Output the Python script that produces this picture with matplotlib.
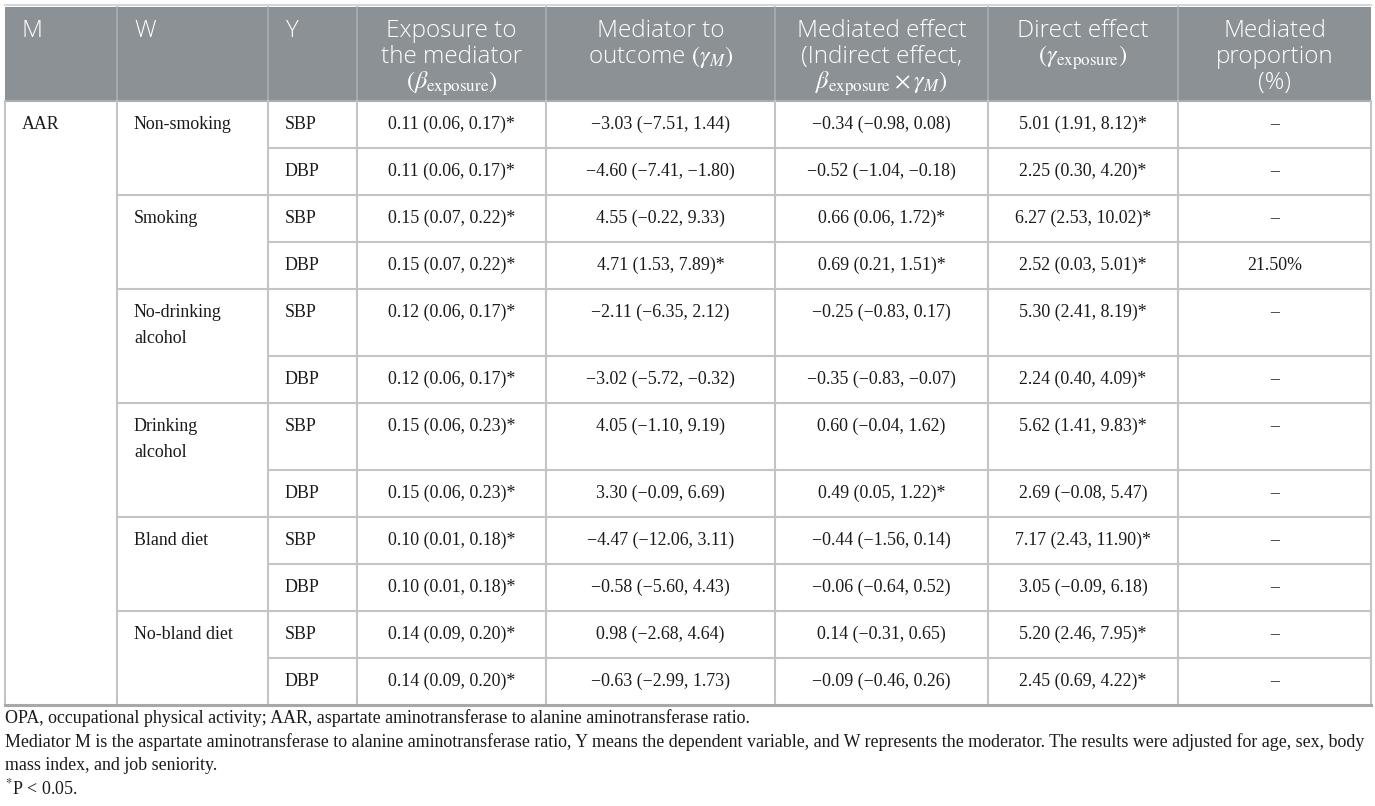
import matplotlib
matplotlib.use("Agg")
import matplotlib.pyplot as plt

plt.rcParams["mathtext.fontset"] = "stix"

# ---- table content ----
mediator = "AAR"
moderators = ["Non-smoking", "Smoking", "No-drinking\nalcohol", "Drinking\nalcohol",
              "Bland diet", "No-bland diet"]
outcomes = ["SBP", "DBP"]

exposure_to_mediator = [
    "0.11 (0.06, 0.17)*", "0.11 (0.06, 0.17)*",
    "0.15 (0.07, 0.22)*", "0.15 (0.07, 0.22)*",
    "0.12 (0.06, 0.17)*", "0.12 (0.06, 0.17)*",
    "0.15 (0.06, 0.23)*", "0.15 (0.06, 0.23)*",
    "0.10 (0.01, 0.18)*", "0.10 (0.01, 0.18)*",
    "0.14 (0.09, 0.20)*", "0.14 (0.09, 0.20)*",
]
mediator_to_outcome = [
    "\u22123.03 (\u22127.51, 1.44)", "\u22124.60 (\u22127.41, \u22121.80)",
    "4.55 (\u22120.22, 9.33)", "4.71 (1.53, 7.89)*",
    "\u22122.11 (\u22126.35, 2.12)", "\u22123.02 (\u22125.72, \u22120.32)",
    "4.05 (\u22121.10, 9.19)", "3.30 (\u22120.09, 6.69)",
    "\u22124.47 (\u221212.06, 3.11)", "\u22120.58 (\u22125.60, 4.43)",
    "0.98 (\u22122.68, 4.64)", "\u22120.63 (\u22122.99, 1.73)",
]
mediated_effect = [
    "\u22120.34 (\u22120.98, 0.08)", "\u22120.52 (\u22121.04, \u22120.18)",
    "0.66 (0.06, 1.72)*", "0.69 (0.21, 1.51)*",
    "\u22120.25 (\u22120.83, 0.17)", "\u22120.35 (\u22120.83, \u22120.07)",
    "0.60 (\u22120.04, 1.62)", "0.49 (0.05, 1.22)*",
    "\u22120.44 (\u22121.56, 0.14)", "\u22120.06 (\u22120.64, 0.52)",
    "0.14 (\u22120.31, 0.65)", "\u22120.09 (\u22120.46, 0.26)",
]
direct_effect = [
    "5.01 (1.91, 8.12)*", "2.25 (0.30, 4.20)*",
    "6.27 (2.53, 10.02)*", "2.52 (0.03, 5.01)*",
    "5.30 (2.41, 8.19)*", "2.24 (0.40, 4.09)*",
    "5.62 (1.41, 9.83)*", "2.69 (\u22120.08, 5.47)",
    "7.17 (2.43, 11.90)*", "3.05 (\u22120.09, 6.18)",
    "5.20 (2.46, 7.95)*", "2.45 (0.69, 4.22)*",
]
mediated_proportion = ["\u2013", "\u2013", "\u2013", "21.50%", "\u2013", "\u2013",
                       "\u2013", "\u2013", "\u2013", "\u2013", "\u2013", "\u2013"]

headers = [
    ["M"], ["W"], ["Y"],
    ["Exposure to", "the mediator", r"$(\beta_{\mathrm{exposure}})$"],
    ["Mediator to", r"outcome $(\gamma_{M})$"],
    ["Mediated effect", "(Indirect effect,", r"$\beta_{\mathrm{exposure}}\times\gamma_{M})$"],
    ["Direct effect", r"$(\gamma_{\mathrm{exposure}})$"],
    ["Mediated", "proportion", "(%)"],
]

footnotes = [
    "OPA, occupational physical activity; AAR, aspartate aminotransferase to alanine aminotransferase ratio.",
    "Mediator M is the aspartate aminotransferase to alanine aminotransferase ratio, Y means the dependent variable, "
    "and W represents the moderator. The results were adjusted for age, sex, body",
    "mass index, and job seniority.",
    r"$^{*}$P < 0.05.",
]

# ---- layout (pixels) ----
col_edges = [5, 117, 268, 357, 546, 775, 988, 1178, 1371]
header_top, header_bottom = 7, 101
row_h, extra_line_h = 47, 20
line_gap = 26
serif = "Liberation Serif"
sans = "Open Sans"
grid = "#c4c4c4"
header_bg = "#8b9194"

fig = plt.figure(figsize=(13.75, 8.06), dpi=100)
ax = fig.add_axes([0, 0, 1, 1])
ax.set_xlim(0, 1375)
ax.set_ylim(806, 0)
ax.axis("off")

# header
ax.plot([col_edges[0], col_edges[-1]], [5, 5], color="#d6d6d6", lw=1.5)
ax.add_patch(plt.Rectangle((col_edges[0], header_top), col_edges[-1] - col_edges[0],
                           header_bottom - header_top, color=header_bg, lw=0))
for x in col_edges[1:-1]:
    ax.plot([x, x], [header_top, header_bottom], color="#a9aeb1", lw=1.2)
ax.plot([col_edges[0], col_edges[-1]], [header_bottom, header_bottom], color="#a9aeb1", lw=1.5)

head_kw = dict(color="white", fontsize=17.5, family=sans, fontweight="light", va="baseline")
for i, lines in enumerate(headers):
    for j, s in enumerate(lines):
        y = 37 + j * line_gap
        if i < 3:
            ax.text(col_edges[i] + 17, y, s, ha="left", **head_kw)
        else:
            xc = (col_edges[i] + col_edges[i + 1]) / 2
            ax.text(xc, y, s, ha="center", **head_kw)

# body rows
cols = [exposure_to_mediator, mediator_to_outcome, mediated_effect,
        direct_effect, mediated_proportion]
body_kw = dict(fontsize=12.9, family=serif, color="#1a1a1a", va="baseline")

y = header_bottom
ax.text(col_edges[0] + 17, y + 28, mediator, ha="left", **body_kw)
r = 0
for g, mod in enumerate(moderators):
    mlines = mod.split("\n")
    group_top = y
    if g > 0:
        ax.plot([col_edges[1], col_edges[-1]], [y, y], color=grid, lw=1.5)
    for j, s in enumerate(mlines):
        ax.text(col_edges[1] + 17, group_top + 28 + j * line_gap, s, ha="left", **body_kw)
    for k, out in enumerate(outcomes):
        h = row_h + (extra_line_h * (len(mlines) - 1) if k == 0 else 0)
        if k > 0:
            ax.plot([col_edges[2], col_edges[-1]], [y, y], color=grid, lw=1.5)
        ax.text(col_edges[2] + 17, y + 28, out, ha="left", **body_kw)
        for c, vals in enumerate(cols):
            xc = (col_edges[3 + c] + col_edges[4 + c]) / 2
            ax.text(xc, y + 28, vals[r], ha="center", **body_kw)
        y += h
        r += 1
body_bottom = y

for x in col_edges:
    ax.plot([x, x], [header_bottom, body_bottom], color=grid, lw=1.5)
ax.plot([col_edges[0], col_edges[-1]], [body_bottom, body_bottom], color="#a8a8a8", lw=2.2)

# footnotes
foot_y = [723, 747, 770, 794]
for s, fy in zip(footnotes, foot_y):
    ax.text(5, fy, s, fontsize=12.9, family=serif, color="#1a1a1a", ha="left", va="baseline")

fig.savefig("out.png", dpi=100)
